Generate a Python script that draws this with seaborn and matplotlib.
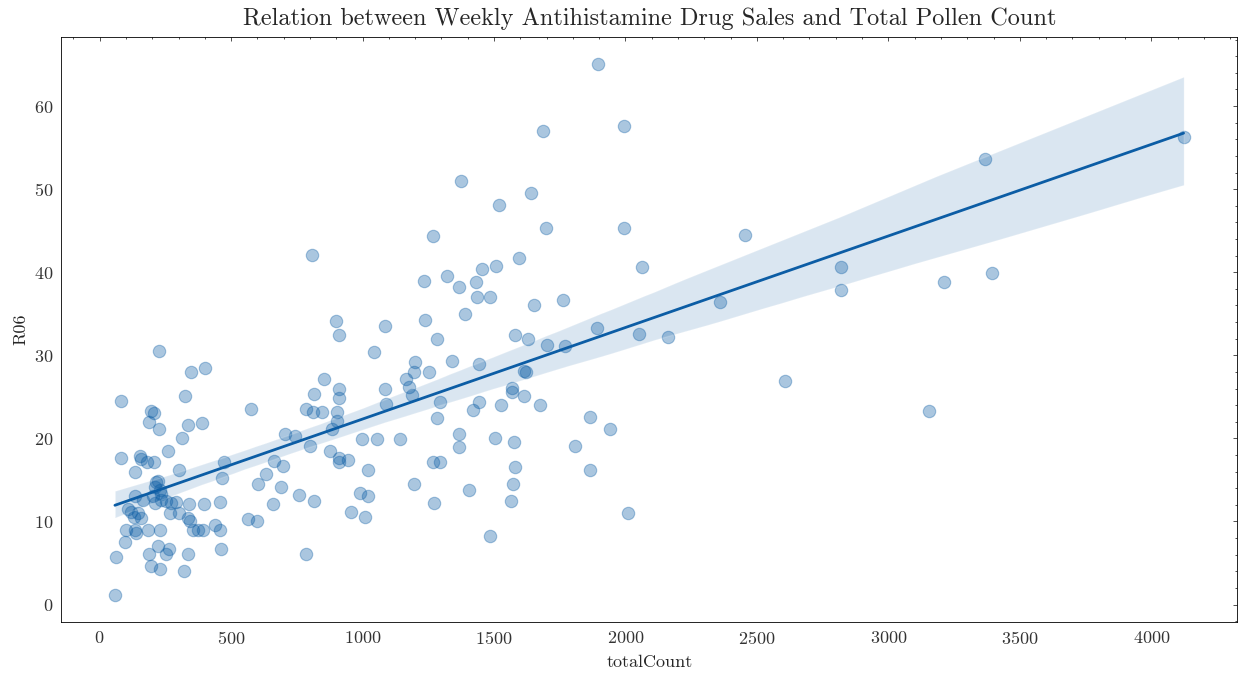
import numpy as np
import pandas as pd
import matplotlib
matplotlib.use("Agg")
import matplotlib.pyplot as plt
import seaborn as sns

total_count = [
    225, 347, 402, 83, 324, 577, 196, 208, 186, 225, 335, 388, 312, 259, 83, 152, 158, 181, 206, 136,
    301, 473, 467, 213, 222, 209, 133, 203, 234, 106, 121, 146, 159, 165, 209, 234, 253, 272, 291, 266,
    303, 341, 398, 458, 335, 345, 102, 133, 184, 228, 137, 354, 373, 392, 439, 458, 95, 64, 186, 222,
    253, 262, 335, 461, 194, 228, 320, 58, 786, 706, 744, 662, 697, 631, 602, 691, 760, 658, 565, 597,
    228, 130,
    911, 1084, 1283, 1581, 1629, 1042, 1201, 1194, 1166, 1178, 1189, 1254, 1340, 1443, 911, 911, 854, 817,
    786, 813, 845, 901, 904, 1084, 1088, 1296, 1283, 1443, 1421, 1525, 1613, 1620, 1569, 1569, 1613, 1676,
    1702, 883, 801, 876, 911, 911, 945, 996, 1055, 1143, 1019, 990, 1019, 817, 956, 1008, 1197, 1267,
    1296, 1273, 1365, 1365, 1405, 1483, 1502, 1576, 1581, 1571, 1565,
    1894, 1688, 1994, 1375, 1520, 1641, 1699, 1993, 2455, 1595, 1456, 1509, 1431, 1366, 1320, 2063, 2821,
    1763, 1652, 1890, 1770, 2051, 2162, 2358, 2607, 1866, 1943, 1808, 1866, 2011, 2821, 3368, 4123, 3211,
    3395, 3154, 807, 1267, 1233, 898, 1238, 1435, 1484, 1390,
]
r06 = [
    30.5, 28.0, 28.5, 24.5, 25.1, 23.5, 23.3, 23.1, 22.0, 21.1, 21.6, 21.8, 20.0, 18.5, 17.6, 17.9, 17.5, 17.2, 17.2, 15.9,
    16.2, 17.1, 15.2, 14.8, 14.9, 14.2, 13.1, 13.1, 13.3, 11.5, 11.2, 11.0, 10.4, 12.6, 12.2, 12.6, 12.5, 12.2, 12.3, 11.0,
    11.0, 12.1, 12.1, 12.3, 10.4, 10.0, 9.0, 9.0, 9.0, 9.0, 8.6, 9.0, 9.0, 9.0, 9.6, 9.0, 7.5, 5.7, 6.1, 7.0,
    6.1, 6.7, 6.1, 6.7, 4.6, 4.3, 4.1, 1.1, 6.1, 20.5, 20.3, 17.3, 16.7, 15.7, 14.5, 14.1, 13.2, 12.1, 10.3, 10.1,
    13.8, 10.6,
    32.5, 33.5, 32.0, 32.5, 32.0, 30.4, 29.2, 28.0, 27.1, 26.2, 25.2, 28.0, 29.3, 28.9, 26.0, 24.9, 27.1, 25.3,
    23.5, 23.2, 23.2, 23.2, 22.1, 26.0, 24.1, 24.4, 22.5, 24.4, 23.4, 24.0, 28.1, 28.0, 26.1, 25.6, 25.1, 24.0,
    31.2, 21.1, 19.1, 18.5, 17.6, 17.1, 17.4, 19.9, 19.9, 19.9, 16.2, 13.4, 13.1, 12.5, 11.1, 10.5, 14.5, 17.1,
    17.1, 12.2, 20.5, 19.0, 13.8, 8.3, 20.0, 19.6, 16.5, 14.5, 12.5,
    65.1, 57.0, 57.6, 51.0, 48.1, 49.5, 45.3, 45.3, 44.5, 41.7, 40.4, 40.8, 38.8, 38.2, 39.5, 40.6, 40.6,
    36.6, 36.0, 33.3, 31.1, 32.6, 32.2, 36.4, 26.9, 22.6, 21.1, 19.1, 16.2, 11.0, 37.9, 53.6, 56.3, 38.8,
    39.9, 23.3, 42.1, 44.4, 39.0, 34.1, 34.3, 37.0, 37.0, 35.0,
]

df = pd.DataFrame({"totalCount": total_count, "R06": r06})

sns.set_style("white")
plt.rcParams.update({
    "font.family": ["cmr10", "DejaVu Serif"],
    "axes.formatter.use_mathtext": True,
    "mathtext.fontset": "cm",
    "xtick.direction": "in",
    "ytick.direction": "in",
    "xtick.top": True,
    "ytick.right": True,
    "xtick.minor.visible": True,
    "ytick.minor.visible": True,
    "xtick.major.size": 3,
    "ytick.major.size": 3,
    "xtick.minor.size": 1.5,
    "ytick.minor.size": 1.5,
    "xtick.major.width": 0.6,
    "ytick.major.width": 0.6,
    "xtick.minor.width": 0.6,
    "ytick.minor.width": 0.6,
    "xtick.major.pad": 6,
    "ytick.major.pad": 6,
    "axes.linewidth": 0.6,
    "axes.edgecolor": "black",
    "xtick.color": "#333333",
    "ytick.color": "#333333",
})

fig = plt.figure(figsize=(12.42, 6.75), dpi=100)
ax = fig.add_axes([0.0495, 0.0785, 0.9465, 0.8665])
color = "#0C5DA5"
sns.regplot(data=df, x="totalCount", y="R06", ax=ax, color=color, seed=3,
            scatter_kws={"alpha": 0.35, "s": 80, "linewidths": 0.8},
            line_kws={"linewidth": 2})
ax.set_title("Relation between Weekly Antihistamine Drug Sales and Total Pollen Count",
             fontsize=17.5, pad=9)
ax.set_xlabel("totalCount", fontsize=13, labelpad=5)
ax.set_ylabel("R06", fontsize=13, labelpad=4)
ax.tick_params(labelsize=13)
for s in ax.spines.values():
    s.set_visible(True)
    s.set_color("black")
    s.set_linewidth(0.6)
fig.savefig("out.png", dpi=100)
